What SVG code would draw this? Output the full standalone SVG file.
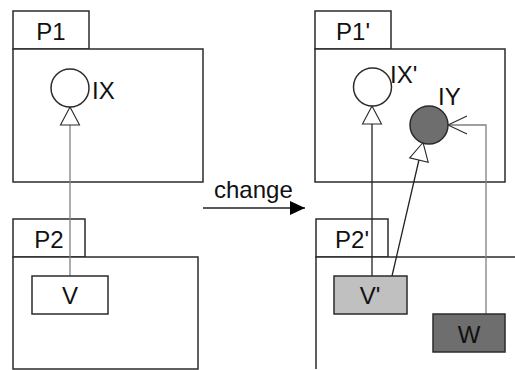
<svg xmlns="http://www.w3.org/2000/svg" width="515" height="370" viewBox="0 0 515 370">
  <style>
    .box { fill: #ffffff; stroke: #2b2b2b; stroke-width: 1.5; }
    .lbl { font-family: "Liberation Sans", Arial, sans-serif; font-size: 24px; fill: #111111; }
    .mid { text-anchor: middle; }
    .iface { fill: #ffffff; stroke: #2b2b2b; stroke-width: 1.5; }
    .link { fill: none; stroke-width: 1.3; }
    .grey { stroke: #808080; }
    .dark { stroke: #222222; }
  </style>
  <defs>
    <marker id="realize" markerUnits="userSpaceOnUse" markerWidth="22" markerHeight="24" viewBox="-20 -12 22 24" refX="0" refY="0" orient="auto">
      <path d="M0,0 L-18,-9.5 L-18,9.5 Z" fill="#ffffff" stroke="#2b2b2b" stroke-width="1.1"/>
    </marker>
    <marker id="use" markerUnits="userSpaceOnUse" markerWidth="22" markerHeight="24" viewBox="-20 -12 22 24" refX="0" refY="0" orient="auto">
      <path d="M-19,-9 L0,0 L-19,9" fill="none" stroke="#2b2b2b" stroke-width="1.1"/>
    </marker>
    <marker id="solid" markerUnits="userSpaceOnUse" markerWidth="18" markerHeight="16" viewBox="-16 -8 18 16" refX="0" refY="0" orient="auto">
      <path d="M0,0 L-15,-7 L-15,7 Z" fill="#000000"/>
    </marker>
  </defs>

  <!-- packages, before -->
  <g id="P1">
    <rect class="box" x="13" y="11" width="76" height="38"/>
    <rect class="box" x="13" y="49" width="190" height="133"/>
    <text class="lbl mid" x="51" y="40">P1</text>
  </g>
  <g id="P2">
    <rect class="box" x="13" y="219" width="72" height="38"/>
    <rect class="box" x="13" y="257" width="185" height="112"/>
    <text class="lbl mid" x="49" y="248">P2</text>
  </g>

  <!-- packages, after -->
  <g id="P1p">
    <rect class="box" x="315" y="11" width="76" height="38"/>
    <rect class="box" x="315" y="49" width="190" height="133"/>
    <text class="lbl mid" x="353" y="40">P1'</text>
  </g>
  <g id="P2p">
    <rect class="box" x="316" y="219" width="72" height="38"/>
    <path class="box" d="M316,369 V257 H516" fill="none"/>
    <text class="lbl mid" x="352" y="248">P2'</text>
  </g>

  <!-- connectors -->
  <g id="connectors">
    <path class="link grey" d="M70,276 V107" marker-end="url(#realize)"/>
    <path class="link dark" d="M372,276 V106" marker-end="url(#realize)"/>
    <path class="link dark" d="M392,276 L423,142.5" marker-end="url(#realize)"/>
    <path class="link grey" d="M486,314 V125 H448" marker-end="url(#use)"/>
    <path class="link dark" d="M203,208 H305" stroke-width="1.4" marker-end="url(#solid)"/>
  </g>

  <!-- interfaces -->
  <g id="IX">
    <circle class="iface" cx="70" cy="88" r="19"/>
    <text class="lbl" x="92" y="99">IX</text>
  </g>
  <g id="IXp">
    <circle class="iface" cx="372.5" cy="87" r="19"/>
    <text class="lbl" x="390" y="83">IX'</text>
  </g>
  <g id="IY">
    <circle class="iface" cx="429" cy="125" r="19" style="fill:#6e6e6e"/>
    <text class="lbl" x="438" y="105">IY</text>
  </g>

  <!-- classes -->
  <g id="V">
    <rect class="box" x="32" y="276" width="76" height="38"/>
    <text class="lbl mid" x="70" y="304">V</text>
  </g>
  <g id="Vp">
    <rect class="box" x="334" y="276" width="73" height="38" style="fill:#c0c0c0"/>
    <text class="lbl mid" x="370" y="304">V'</text>
  </g>
  <g id="W">
    <rect class="box" x="433" y="314" width="72" height="38" style="fill:#6e6e6e"/>
    <text class="lbl mid" x="469" y="343">W</text>
  </g>

  <!-- transformation label -->
  <g id="change">
    <text class="lbl" x="214" y="198">change</text>
  </g>
</svg>
